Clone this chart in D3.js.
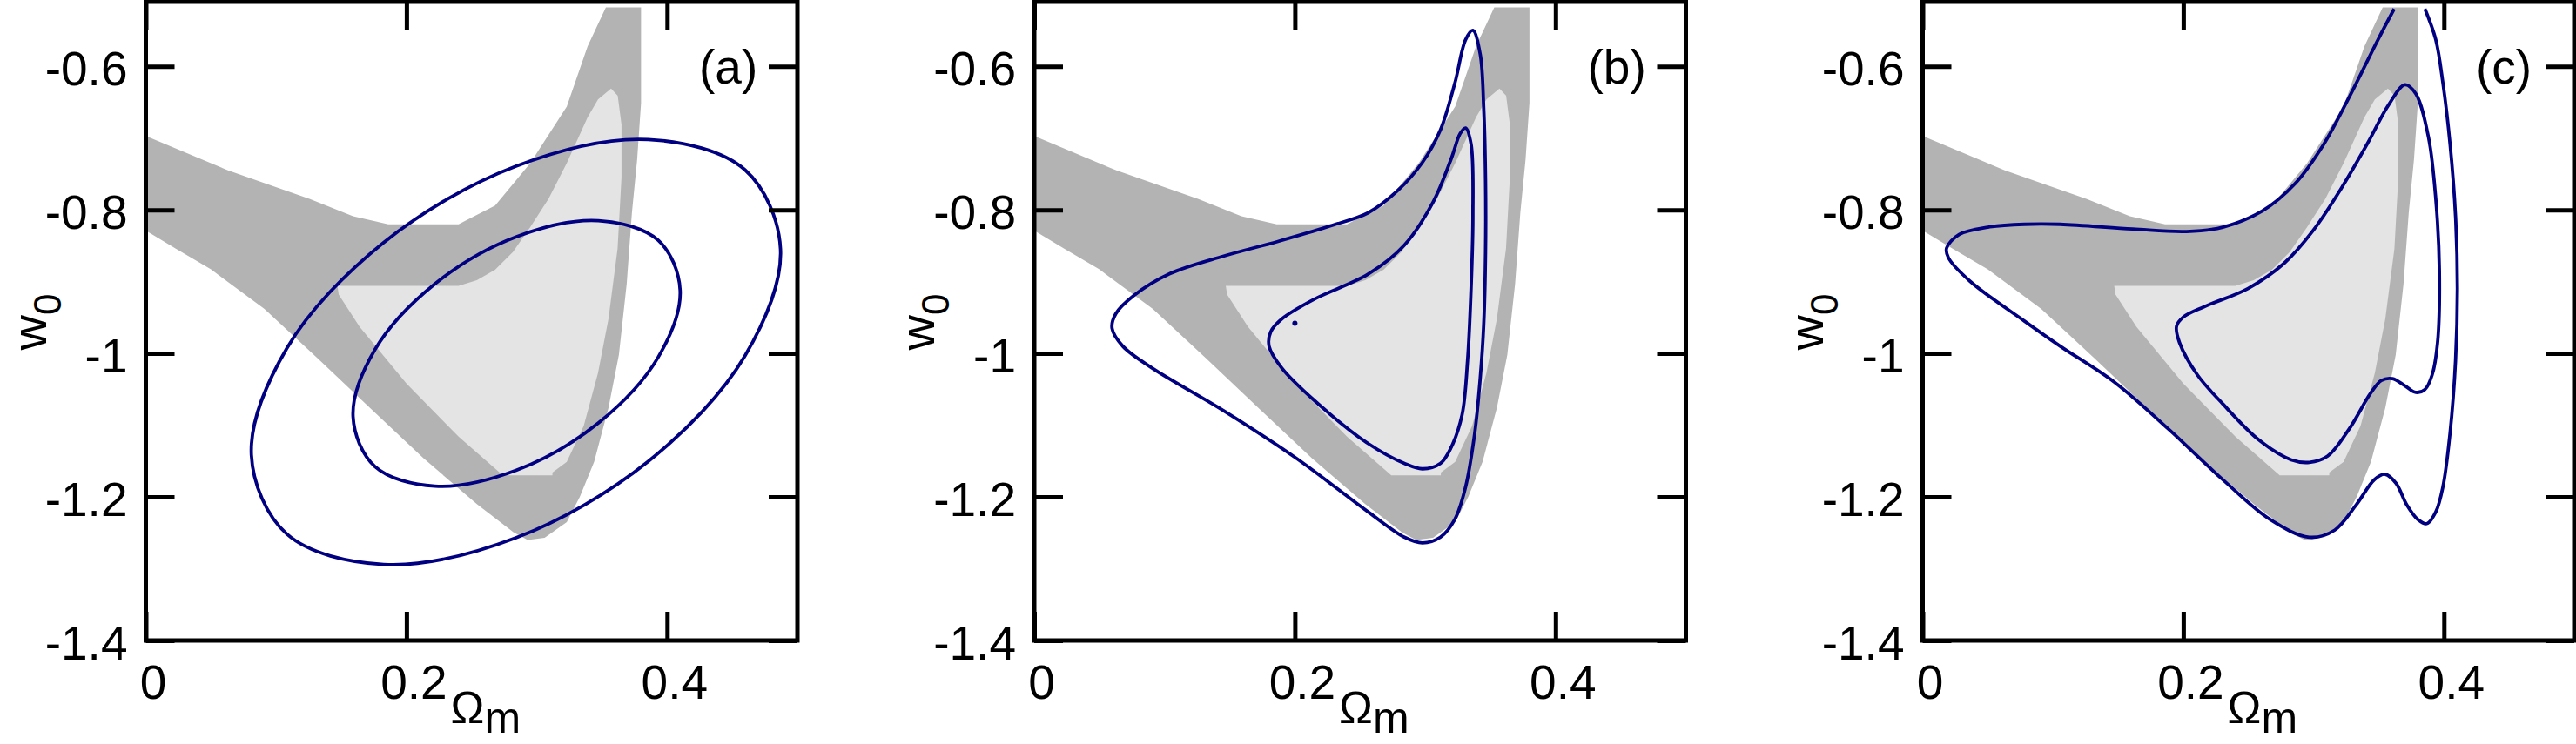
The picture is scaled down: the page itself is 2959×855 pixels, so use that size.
<!DOCTYPE html>
<html>
<head>
<meta charset="utf-8">
<script src="https://cdn.jsdelivr.net/npm/d3@7"></script>
<style>
  html, body { margin: 0; padding: 0; background: #fff; }
  svg { display: block; font-family: "Liberation Sans", Arial, Helvetica, sans-serif; }
</style>
</head>
<body>
<svg id="chart" width="2959" height="855"></svg>
<script>
// ---------------- data ----------------
const xTicks = [0, 0.2, 0.4];
const xTickLabels = ["0", "0.2", "0.4"];
const yTicks = [-1.4, -1.2, -1, -0.8, -0.6];
const yTickLabels = ["-1.4", "-1.2", "-1", "-0.8", "-0.6"];
const panelLabels = ["(a)", "(b)", "(c)"];
const xDomain = [0, 0.5];
const yDomain = [-1.4, -0.51];

// outer (2-sigma, dark grey) and inner (1-sigma, light grey) shaded regions, same in each panel
const darkRegion = [
  [0, -0.697], [0.063, -0.745], [0.126, -0.785], [0.159, -0.809], [0.186, -0.820],
  [0.240, -0.820], [0.268, -0.794], [0.295, -0.735], [0.323, -0.656], [0.339, -0.572],
  [0.353, -0.518], [0.380, -0.518], [0.380, -0.651], [0.377, -0.730], [0.373, -0.804],
  [0.369, -0.903], [0.363, -1.002], [0.355, -1.076], [0.344, -1.151], [0.333, -1.200],
  [0.323, -1.235], [0.306, -1.257], [0.293, -1.260], [0.282, -1.249], [0.254, -1.210],
  [0.213, -1.146], [0.172, -1.076], [0.132, -1.007], [0.091, -0.938], [0.050, -0.883],
  [0.023, -0.854], [0, -0.829]
];
const lightRegion = [
  [0.147, -0.906], [0.240, -0.906], [0.254, -0.898], [0.268, -0.8835], [0.2816, -0.8588],
  [0.295, -0.824], [0.309, -0.7846], [0.323, -0.735], [0.339, -0.671], [0.347, -0.646],
  [0.357, -0.631], [0.3621, -0.641], [0.365, -0.681], [0.365, -0.755], [0.362, -0.854],
  [0.355, -0.952], [0.347, -1.027], [0.336, -1.101], [0.323, -1.151], [0.312, -1.166],
  [0.312, -1.170], [0.274, -1.170], [0.240, -1.116], [0.200, -1.042], [0.164, -0.963],
  [0.148, -0.918]
];

// panel (a) contours
const aOuter = [
  [0.487, -0.8545], [0.4598, -0.7443], [0.3855, -0.702], [0.284, -0.7391], [0.1825, -0.8455],
  [0.1082, -0.9928], [0.081, -1.1415], [0.1082, -1.2517], [0.1825, -1.294], [0.284, -1.2569],
  [0.3855, -1.1505], [0.4598, -1.0032]
];
const aInner = [
  [0.41, -0.912], [0.3932, -0.8424], [0.3473, -0.815], [0.2845, -0.8373], [0.2218, -0.9031],
  [0.1758, -0.9948], [0.159, -1.088], [0.1758, -1.1576], [0.2218, -1.185], [0.2845, -1.1627],
  [0.3473, -1.0969], [0.3932, -1.0052]
];
// panel (b) contours
const bOuter = [
  [0.3366, -0.550], [0.3422, -0.583], [0.3449, -0.658], [0.3463, -0.759], [0.3463, -0.859],
  [0.3449, -0.960], [0.3422, -1.035], [0.338, -1.111], [0.331, -1.186], [0.3228, -1.231],
  [0.3117, -1.256], [0.2979, -1.264], [0.284, -1.256], [0.2563, -1.221], [0.201, -1.146],
  [0.1455, -1.080], [0.0901, -1.020], [0.068, -0.990], [0.0597, -0.965], [0.0625, -0.945],
  [0.0763, -0.9196], [0.104, -0.889], [0.1455, -0.8644], [0.187, -0.844], [0.2286, -0.8216],
  [0.2563, -0.804], [0.2784, -0.774], [0.2979, -0.7337], [0.3117, -0.6885], [0.3228, -0.6231],
  [0.331, -0.5628]
];
const bInner = [
  [0.331, -0.686], [0.3352, -0.7085], [0.3366, -0.809], [0.3352, -0.9096], [0.3325, -1.010],
  [0.3283, -1.0855], [0.32, -1.1307], [0.3117, -1.1533], [0.2979, -1.1608], [0.284, -1.1533],
  [0.2563, -1.1257], [0.2148, -1.0653], [0.1898, -1.020], [0.1802, -0.990], [0.1815, -0.9698],
  [0.1898, -0.9523], [0.2148, -0.9246], [0.2563, -0.8895], [0.284, -0.8492], [0.3061, -0.789],
  [0.32, -0.7286], [0.3269, -0.6935]
];
const bBest = [[0.2, -0.958]];
// panel (c) contours (outer one is open at the top of the grid)
const cOuter = [
  [0.3618, -0.520], [0.3494, -0.5628], [0.3272, -0.6432], [0.3078, -0.7085], [0.2856, -0.7638],
  [0.2607, -0.8015], [0.2303, -0.8241], [0.2025, -0.8302], [0.1611, -0.8267], [0.1056, -0.8201],
  [0.078, -0.8201], [0.0502, -0.8241], [0.0281, -0.8342], [0.0184, -0.8532], [0.0198, -0.8668],
  [0.0364, -0.8995], [0.078, -0.9548], [0.1056, -0.990], [0.1472, -1.0402], [0.1887, -1.1056],
  [0.2303, -1.1759], [0.2663, -1.2311], [0.2967, -1.2562], [0.3161, -1.2463], [0.3327, -1.211],
  [0.3466, -1.1759], [0.3549, -1.1684], [0.3632, -1.1809], [0.3715, -1.211], [0.3798, -1.2311],
  [0.3868, -1.2372], [0.3937, -1.2211], [0.3992, -1.186], [0.4047, -1.1106], [0.4089, -1.010],
  [0.4103, -0.9096], [0.4089, -0.809], [0.4047, -0.7085], [0.3992, -0.6231], [0.3937, -0.5628],
  [0.3854, -0.520]
];
const cInner = [
  [0.3701, -0.6256], [0.3784, -0.6382], [0.3881, -0.6985], [0.3937, -0.7839], [0.3965, -0.8845],
  [0.3951, -0.985], [0.3909, -1.0302], [0.3854, -1.0503], [0.3784, -1.0543], [0.3701, -1.0452],
  [0.3605, -1.0352], [0.3521, -1.0377], [0.3438, -1.0553], [0.3272, -1.1056], [0.3106, -1.1433],
  [0.2967, -1.1518], [0.2829, -1.1483], [0.258, -1.1206], [0.2303, -1.0703], [0.2109, -1.0302],
  [0.1971, -0.985], [0.1948, -0.9623], [0.1998, -0.9497], [0.2164, -0.9347], [0.2496, -0.9096],
  [0.2774, -0.8744], [0.2995, -0.8291], [0.3216, -0.7688], [0.341, -0.7085], [0.3577, -0.6532]
];

const panels = [
  { label: panelLabels[0], closed: [aOuter, aInner], open: [], points: [] },
  { label: panelLabels[1], closed: [bOuter, bInner], open: [], points: bBest },
  { label: panelLabels[2], closed: [cInner], open: [cOuter], points: [] }
];

// ---------------- layout ----------------
const lefts = [167.5, 1188, 2208.5];
const pw = 748.5, plotTop = 2, plotBottom = 736;
const tickLen = 33;
const darkGrey = "#b3b3b3", lightGrey = "#e4e4e4", blue = "#000080";

const svg = d3.select("#chart");
svg.append("rect").attr("width", 2959).attr("height", 855).attr("fill", "#fff");

panels.forEach((p, i) => {
  const L = lefts[i];
  const x = d3.scaleLinear().domain(xDomain).range([L, L + pw]);
  const y = d3.scaleLinear().domain(yDomain).range([plotBottom, plotTop]);
  const g = svg.append("g");

  const clipId = "clip" + i;
  g.append("clipPath").attr("id", clipId)
    .append("rect").attr("x", L).attr("y", plotTop).attr("width", pw).attr("height", plotBottom - plotTop);
  const plot = g.append("g").attr("clip-path", `url(#${clipId})`);

  const area = d3.line().x(d => x(d[0])).y(d => y(d[1])).curve(d3.curveLinearClosed);
  plot.append("path").attr("d", area(darkRegion)).attr("fill", darkGrey);
  plot.append("path").attr("d", area(lightRegion)).attr("fill", lightGrey);

  const closedLine = d3.line().x(d => x(d[0])).y(d => y(d[1])).curve(d3.curveCatmullRomClosed.alpha(0.5));
  const openLine = d3.line().x(d => x(d[0])).y(d => y(d[1])).curve(d3.curveCatmullRom.alpha(0.5));
  p.closed.forEach(c => plot.append("path").attr("d", closedLine(c))
    .attr("fill", "none").attr("stroke", blue).attr("stroke-width", 3.8).attr("stroke-linejoin", "round"));
  p.open.forEach(c => plot.append("path").attr("d", openLine(c))
    .attr("fill", "none").attr("stroke", blue).attr("stroke-width", 3.8).attr("stroke-linejoin", "round"));
  p.points.forEach(d => plot.append("circle").attr("cx", x(d[0])).attr("cy", y(d[1])).attr("r", 3).attr("fill", blue));

  // axes
  const styleTicks = sel => {
    sel.select(".domain").remove();
    sel.selectAll(".tick line").attr("stroke", "#000").attr("stroke-width", 5);
  };
  const bx = g.append("g").attr("transform", `translate(0,${plotBottom})`)
    .call(d3.axisBottom(x).tickValues(xTicks).tickSize(-tickLen).tickSizeOuter(0)
      .tickFormat((d, k) => xTickLabels[k]));
  styleTicks(bx);
  bx.attr("font-family", null).attr("font-size", null);
  bx.selectAll(".tick text").attr("y", 67).attr("dy", 0).attr("dx", 8)
    .attr("font-size", 55).attr("fill", "#000");

  const ly = g.append("g").attr("transform", `translate(${L},0)`)
    .call(d3.axisLeft(y).tickValues(yTicks).tickSize(-tickLen).tickSizeOuter(0)
      .tickFormat((d, k) => yTickLabels[k]));
  styleTicks(ly);
  ly.attr("font-family", null).attr("font-size", null);
  ly.selectAll(".tick text").attr("x", -21).attr("dy", 0).attr("y", 21)
    .attr("font-size", 55).attr("fill", "#000");

  const tx = g.append("g").attr("transform", `translate(0,${plotTop})`)
    .call(d3.axisTop(x).tickValues(xTicks).tickSize(-tickLen).tickSizeOuter(0).tickFormat(""));
  styleTicks(tx);
  const ry = g.append("g").attr("transform", `translate(${L + pw},0)`)
    .call(d3.axisRight(y).tickValues(yTicks).tickSize(-tickLen).tickSizeOuter(0).tickFormat(""));
  styleTicks(ry);

  // frame
  g.append("rect").attr("x", L).attr("y", plotTop).attr("width", pw).attr("height", plotBottom - plotTop)
    .attr("fill", "none").attr("stroke", "#000").attr("stroke-width", 5);

  // panel label
  g.append("text").attr("x", L + pw - 113).attr("y", 96).attr("font-size", 55).text(p.label);

  // axis titles
  const yt = g.append("text").attr("transform", `translate(${L - 115},370) rotate(-90)`)
    .attr("text-anchor", "middle");
  yt.append("tspan").attr("font-size", 56).text("w");
  yt.append("tspan").attr("font-size", 44).attr("dy", 17).text("0");

  const xt = g.append("text").attr("x", L + 350).attr("y", 831);
  xt.append("tspan").attr("font-size", 52).text("Ω");
  xt.append("tspan").attr("font-size", 50).attr("dy", 11).text("m");
});
</script>
</body>
</html>
